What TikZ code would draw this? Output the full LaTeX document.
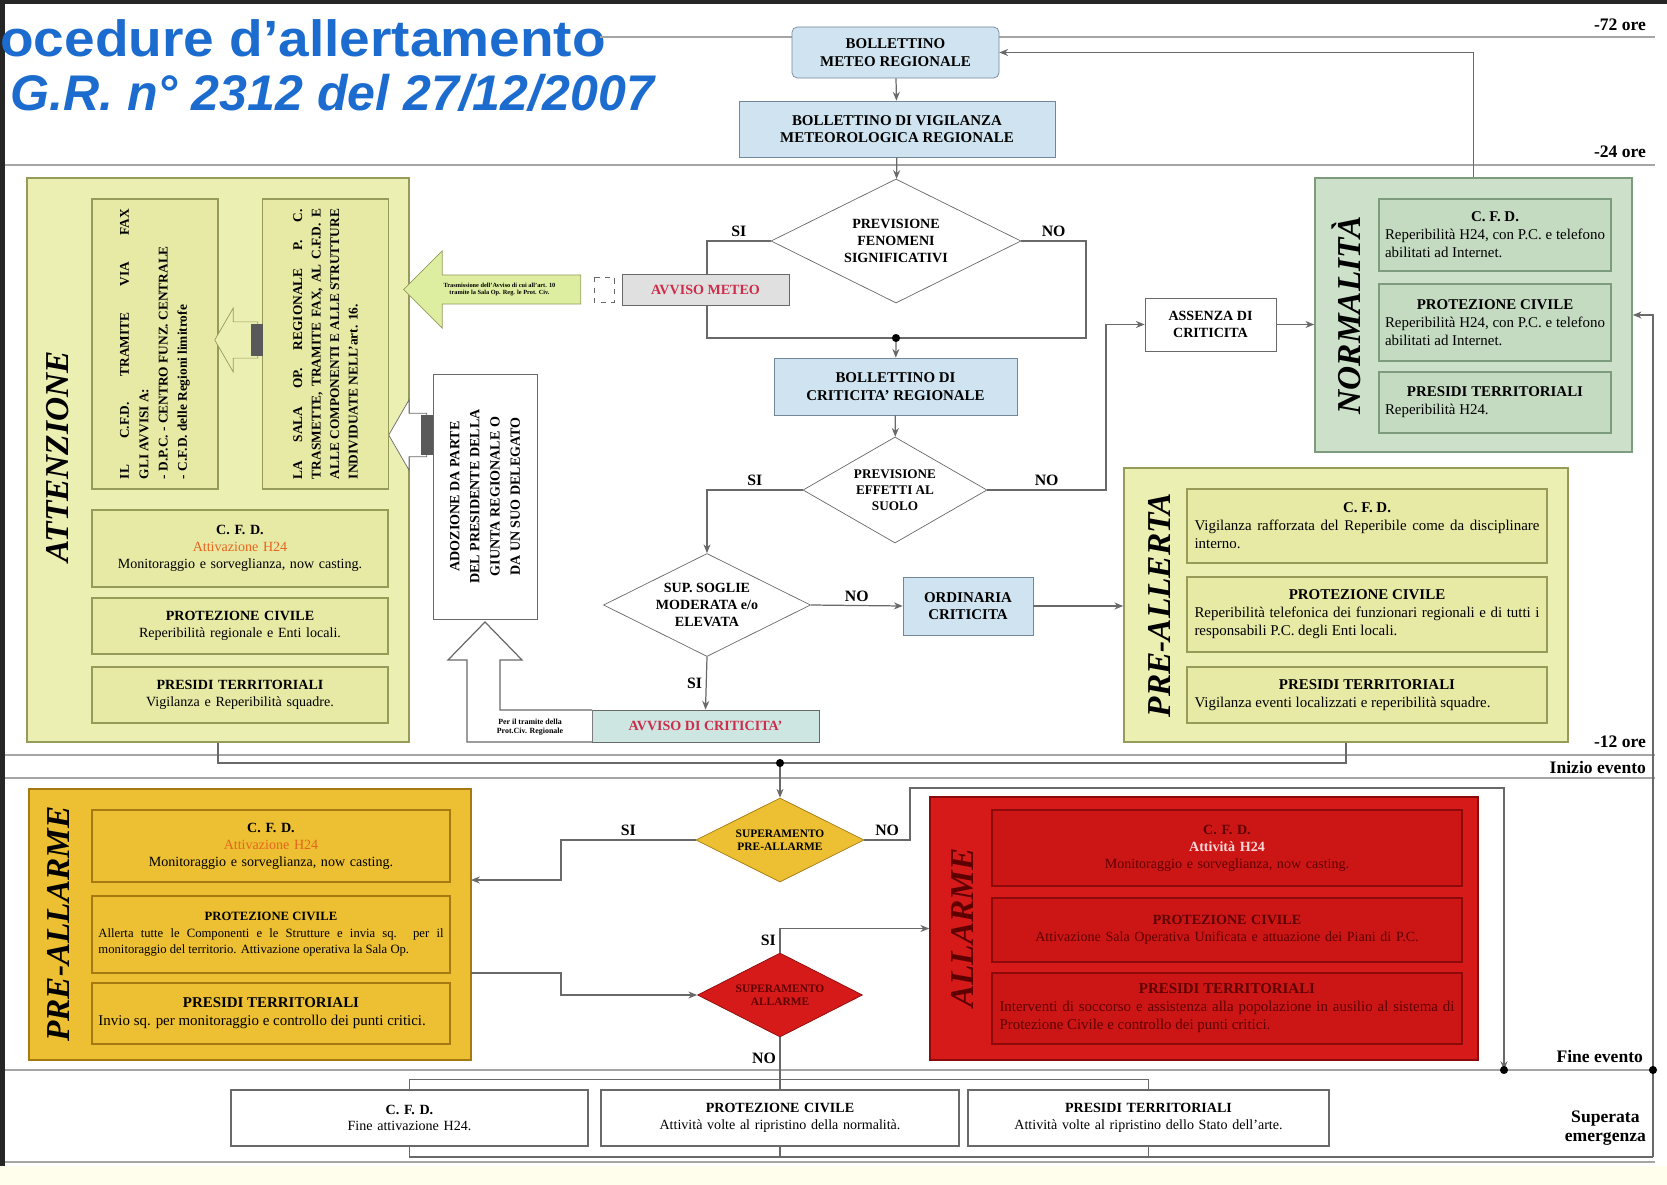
\documentclass[tikz,border=0pt]{standalone}
\usepackage{fontspec}
\setmainfont{Liberation Serif}
\newfontfamily\titlefont{Liberation Sans}
\usetikzlibrary{shapes.geometric, shapes.arrows, arrows.meta, positioning, calc}

\definecolor{attfill}{RGB}{236,239,178}
\definecolor{attin}{RGB}{231,234,165}
\definecolor{attdraw}{RGB}{150,155,90}
\definecolor{arrfill}{RGB}{222,238,160}
\definecolor{normfill}{RGB}{205,225,202}
\definecolor{normin}{RGB}{196,219,194}
\definecolor{normdraw}{RGB}{125,155,125}
\definecolor{goldfill}{RGB}{236,192,50}
\definecolor{golddraw}{RGB}{165,122,18}
\definecolor{allred}{RGB}{214,26,26}
\definecolor{allin}{RGB}{204,22,22}
\definecolor{alldraw}{RGB}{140,10,10}
\definecolor{alltext}{RGB}{95,0,0}
\definecolor{bluefill}{RGB}{207,228,240}
\definecolor{bluedraw}{RGB}{115,135,155}
\definecolor{avvfill}{RGB}{205,230,226}
\definecolor{avvtext}{RGB}{205,45,75}
\definecolor{titleblue}{RGB}{28,108,208}
\definecolor{lncol}{RGB}{105,105,105}
\definecolor{sepcol}{RGB}{165,165,165}
\definecolor{orangetxt}{RGB}{232,100,30}

\begin{document}
\begin{tikzpicture}[x=0.2mm,y=-0.2mm,
  bbox/.style={rectangle,draw=bluedraw,fill=bluefill,align=center,font=\fontsize{8.5}{10}\selectfont\bfseries,inner sep=1pt},
  dec/.style={diamond,draw=lncol,fill=white,align=center,inner sep=0pt,aspect=2,font=\fontsize{8}{9.5}\selectfont\bfseries},
  panel/.style={rectangle,draw=#1,line width=0.9pt},
  inb/.style={rectangle,draw=#1,line width=1pt,inner sep=2pt,align=center,font=\fontsize{8}{9.6}\selectfont},
  jinb/.style={inb=#1,align=justify,font={\fontsize{8.5}{10.2}\selectfont\hyphenpenalty 10000 }},
  plab/.style={rotate=90,font=\fontsize{19}{19}\selectfont\bfseries\itshape,inner sep=0pt},
  tlab/.style={anchor=east,font=\fontsize{10}{11}\selectfont\bfseries,inner sep=1pt},
  lab/.style={font=\fontsize{9}{10}\selectfont\bfseries,inner sep=2pt},
  ln/.style={draw=lncol,line width=0.7pt},
  fl/.style={ln,-{Stealth[length=5pt,width=4pt]}},
  sep/.style={draw=sepcol,line width=1pt}
]
\useasboundingbox (0,0) rectangle (1667,1185);
\fill[white] (0,0) rectangle (1667,1185);
\fill[yellow!7] (0,1166) rectangle (1667,1185);
\fill[black!85] (0,0) rectangle (1667,4);
\fill[black!85] (0,0) rectangle (5,1166);

% titolo
\node[anchor=west,inner sep=0pt,text=titleblue,font=\titlefont\fontsize{29}{29}\selectfont\bfseries] (tit1) at (0,38) {\scalebox{1.08}[1]{ocedure d’allertamento}};
\node[anchor=west,inner sep=0pt,text=titleblue,font=\titlefont\fontsize{28.5}{28.5}\selectfont\bfseries\itshape] (tit2) at (10,93) {G.R. n° 2312 del 27/12/2007};

% linee dei tempi
\draw[sep] (600,37) -- (1655,37);
\draw[sep] (5,165) -- (1655,165);
\draw[sep] (5,755) -- (1655,755);
\draw[sep] (5,778) -- (1655,778);
\draw[sep] (5,1070) -- (1655,1070);
\draw[sep] (5,1162) -- (1655,1162);
\node[tlab] (t72) at (1648,25) {-72 ore};
\node[tlab] (t24) at (1648,152) {-24 ore};
\node[tlab] (t12) at (1648,742) {-12 ore};
\node[tlab] (tie) at (1648,767) {Inizio evento};
\node[tlab] (tfe) at (1645,1056) {Fine evento};
\node[tlab,align=center] (tse) at (1648,1128) {Superata\\emergenza};

\coordinate (j1) at (896,338);
\coordinate (j2) at (780,763);
\coordinate (fe) at (1504,1070);
\coordinate (fe2) at (1653,1070);
\coordinate (se) at (1653,1157);
\coordinate (pmin) at (471,880);
\coordinate (pmout) at (471,973);
\coordinate (fb) at (780,1080);

% pannelli
\node[panel=attdraw,fill=attfill,minimum width=76.4mm,minimum height=112.8mm] (att) at (218,460) {};
\node[panel=normdraw,fill=normfill,minimum width=63.4mm,minimum height=54.8mm] (norm) at (1473.5,315) {};
\node[panel=attdraw,fill=attfill,minimum width=88.8mm,minimum height=54.8mm] (preal) at (1346,605) {};
\node[panel=golddraw,fill=goldfill,minimum width=88.4mm,minimum height=54.2mm] (prearm) at (250,924.5) {};
\node[panel=alldraw,fill=allred,minimum width=109.6mm,minimum height=52.6mm] (allarme) at (1204,928.5) {};

\node[plab] (attlab) at (58,457) {ATTENZIONE};
\node[plab] (normlab) at (1346,315) {NORMALITÀ};
\node[plab] (preallab) at (1159,605) {PRE-ALLERTA};
\node[plab] (prearmlab) at (58,924) {PRE-ALLARME};
\node[plab,text=alltext] (allab) at (962,928) {ALLARME};

% flusso centrale
\node[bbox,rounded corners=3pt,minimum width=41.4mm,minimum height=10.2mm] (bmr) at (895.5,52.5) {BOLLETTINO\\METEO REGIONALE};
\node[bbox,minimum width=63.2mm,minimum height=11.2mm] (bvig) at (897,129) {BOLLETTINO DI VIGILANZA\\METEOROLOGICA REGIONALE};
\node[dec,minimum width=50mm,minimum height=24.8mm] (d1) at (896,241) {PREVISIONE\\FENOMENI\\SIGNIFICATIVI};
\node[bbox,minimum width=48.6mm,minimum height=11.4mm] (bcrit) at (895.5,386.5) {BOLLETTINO DI\\CRITICITA' REGIONALE};
\node[dec,aspect=1.75,font=\fontsize{7.5}{9}\selectfont\bfseries,minimum width=36.8mm,minimum height=21.2mm] (d2) at (895,490) {PREVISIONE\\EFFETTI AL\\SUOLO};
\node[rectangle,draw=lncol,fill=white,align=center,font=\fontsize{8}{9.5}\selectfont\bfseries,minimum width=26.2mm,minimum height=10.6mm] (assenza) at (1210.5,324.5) {ASSENZA DI\\CRITICITA};
\node[dec,minimum width=41.4mm,minimum height=20.6mm] (d3) at (707,605) {SUP. SOGLIE\\MODERATA e/o\\ELEVATA};
\node[bbox,minimum width=26mm,minimum height=11.6mm] (ordin) at (968,606) {ORDINARIA\\CRITICITA};
\node[dec,fill=goldfill,draw=golddraw,font=\fontsize{6.5}{7.5}\selectfont\bfseries,minimum width=33.6mm,minimum height=16.8mm] (dpre) at (780,840) {SUPERAMENTO\\PRE-ALLARME};
\node[dec,fill=allred,draw=alldraw,text=alltext,font=\fontsize{6.5}{7.5}\selectfont\bfseries,minimum width=33mm,minimum height=16.8mm] (dall) at (780,995) {SUPERAMENTO\\ALLARME};

\draw[fl] (bmr) -- (bvig);
\draw[fl] (bvig) -- (d1);
\draw[ln] (d1.west) -- node[lab,above]{SI} (707,241) |- (j1);
\draw[ln] (d1.east) -- node[lab,above]{NO} (1086,241) |- (j1);
\draw[fl] (j1) -- (bcrit);
\draw[fl] (bcrit) -- (d2);
\draw[fl] (d2.west) -| node[lab,above,pos=0.25]{SI} (d3.north);
\draw[fl] (d2.east) -- node[lab,above]{NO} (1106,490) |- (assenza.west);
\draw[fl] (assenza.east) -- (assenza.east -| norm.west);
\draw[fl] (d3.east) -- node[lab,above]{NO} (ordin.west);
\draw[fl] (ordin.east) -- (ordin.east -| preal.west);
\draw[fl] (norm.north) |- (bmr.east);
\draw[ln] (att.south) |- (j2) -| (preal.south);
\draw[fl] (j2) -- (dpre.north);
\draw[fl] (dpre.west) -- node[lab,above]{SI} (561,840) |- (pmin);
\draw[fl] (dpre.east) -- node[lab,above]{NO} (910,840) |- (1504,788) -- (fe);
\draw[fl] (pmout) -- (561,973) |- (dall.west);
\draw[fl] (dall.north) |- node[lab,left,pos=0.25]{SI} (allarme.west);
\draw[ln] (dall.south) -- node[lab,left]{NO} (fb);
\draw[fl] (se) -- (fe2) |- (norm.east);
\foreach \j in {j1,j2,fe,fe2} \fill[black] (\j) circle (2.3pt);

% avvisi
\node[rectangle,draw=lncol,fill=black!12,text=avvtext,font=\fontsize{8}{9}\selectfont\bfseries,minimum width=33.4mm,minimum height=6.2mm] (avvmeteo) at (705.5,289.5) {AVVISO METEO};
\node[rectangle,draw=lncol,fill=avvfill,text=avvtext,font=\fontsize{8}{9}\selectfont\bfseries,minimum width=45.4mm,minimum height=6.4mm] (avvcrit) at (705.5,726) {AVVISO DI CRITICITA'};
\draw[fl] (d3.south) -- node[lab,left]{SI} (avvcrit.north);
\draw[lncol,dashed] (594,277) rectangle (614,302);
\node[single arrow,shape border rotate=180,draw=attdraw,fill=arrfill,minimum height=35.4mm,minimum width=15.4mm,single arrow head extend=4.6mm,inner xsep=1pt,inner ysep=4pt,align=center,font=\fontsize{3.6}{4.2}\selectfont\bfseries] (amet) at (499.5,289.5) {Trasmissione dell'Avviso di cui all'art. 10\\tramite la Sala Op. Reg. le Prot. Civ.};

% adozione
\node[rectangle,draw=lncol,fill=white,rotate=90,align=center,font=\fontsize{8}{11.5}\selectfont\bfseries,minimum width=49mm,minimum height=20.8mm] (adoz) at (485,496.5) {ADOZIONE DA PARTE\\DEL PRESIDENTE DELLA\\GIUNTA REGIONALE O\\DA UN SUO DELEGATO};
\draw[lncol,fill=white,line width=0.7pt] (592,710) -- (500,710) -- (500,660) -- (522,660) -- (485,622) -- (448,660) -- (467,660) -- (467,742) -- (592,742);
\node[align=center,font=\fontsize{4.5}{5.2}\selectfont\bfseries,inner sep=0pt] (tramite) at (530,727) {Per il tramite della\\Prot.Civ. Regionale};
\node[single arrow,shape border rotate=180,draw=lncol,fill=white,minimum height=7.6mm,minimum width=14mm,single arrow tip angle=120,inner xsep=0pt,inner ysep=4mm] (aAd) at (414,435) {};
\fill[black!65] (421,415) rectangle (433,455);

% attenzione
\node[inb=attdraw,fill=attin,rotate=90,minimum width=58mm,minimum height=25.2mm,text width=54mm,align=justify,font=\fontsize{7.6}{11}\selectfont\bfseries] (attA) at (155,344) {IL C.F.D. TRAMITE VIA FAX\linebreak GLI AVVISI A:\\- D.P.C. - CENTRO FUNZ. CENTRALE\\- C.F.D. delle Regioni limitrofe};
\node[inb=attdraw,fill=attin,rotate=90,minimum width=58mm,minimum height=25.2mm,text width=54mm,align=justify,font=\fontsize{7.6}{10.5}\selectfont\bfseries] (attB) at (325.5,344) {LA SALA OP. REGIONALE P. C. TRASMETTE, TRAMITE FAX, AL C.F.D. E ALLE COMPONENTI E ALLE STRUTTURE INDIVIDUATE NELL'art. 16.};
\node[single arrow,shape border rotate=180,draw=attdraw,fill=attfill,minimum height=8.6mm,minimum width=12.8mm,single arrow tip angle=120,inner xsep=0pt,inner ysep=3.2mm] (aAB) at (241.5,340) {};
\fill[black!65] (251,324) rectangle (263,356);
\node[inb=attdraw,fill=attin,minimum width=59.2mm,minimum height=15.4mm,text width=57mm] (attcfd) at (240,548.5) {\textbf{C. F. D.}\\\textcolor{orangetxt}{Attivazione H24}\\Monitoraggio e sorveglianza, now casting.};
\node[inb=attdraw,fill=attin,minimum width=59.2mm,minimum height=11.2mm,text width=57mm] (attpc) at (240,626) {\textbf{PROTEZIONE CIVILE}\\Reperibilità regionale e Enti locali.};
\node[inb=attdraw,fill=attin,minimum width=59.2mm,minimum height=11.2mm,text width=57mm] (attpt) at (240,695) {\textbf{PRESIDI TERRITORIALI}\\Vigilanza e Reperibilità squadre.};

% normalita
\node[jinb=normdraw,fill=normin,minimum width=46.4mm,minimum height=14.4mm,text width=44mm] (nocfd) at (1495,235) {{\centering\textbf{C. F. D.}\par}Reperibilità H24, con P.C. e telefono abilitati ad Internet.};
\node[jinb=normdraw,fill=normin,minimum width=46.4mm,minimum height=15.4mm,text width=44mm] (nopc) at (1495,322.5) {{\centering\textbf{PROTEZIONE CIVILE}\par}Reperibilità H24, con P.C. e telefono abilitati ad Internet.};
\node[jinb=normdraw,fill=normin,minimum width=46.4mm,minimum height=12.2mm,text width=44mm] (nopt) at (1495,402.5) {{\centering\textbf{PRESIDI TERRITORIALI}\par}Reperibilità H24.};

% pre-allerta
\node[jinb=attdraw,fill=attin,minimum width=72mm,minimum height=14.8mm,text width=69mm] (pacfd) at (1367,526) {{\centering\textbf{C. F. D.}\par}Vigilanza rafforzata del Reperibile come da disciplinare interno.};
\node[jinb=attdraw,fill=attin,minimum width=72mm,minimum height=15mm,text width=69mm] (papc) at (1367,614.5) {{\centering\textbf{PROTEZIONE CIVILE}\par}Reperibilità telefonica dei funzionari regionali e di tutti i responsabili P.C. degli Enti locali.};
\node[jinb=attdraw,fill=attin,minimum width=72mm,minimum height=11.2mm,text width=69mm] (papt) at (1367,695) {{\centering\textbf{PRESIDI TERRITORIALI}\par}Vigilanza eventi localizzati e reperibilità squadre.};

% pre-allarme
\node[inb=golddraw,fill=goldfill,minimum width=71.6mm,minimum height=14.4mm,text width=69mm] (pmcfd) at (271,846) {\textbf{C. F. D.}\\\textcolor{orangetxt}{Attivazione H24}\\Monitoraggio e sorveglianza, now casting.};
\node[jinb=golddraw,fill=goldfill,font={\fontsize{7.2}{9.4}\selectfont\hyphenpenalty 10000 },minimum width=71.6mm,minimum height=15.4mm,text width=69mm] (pmpc) at (271,934.5) {{\centering\textbf{PROTEZIONE CIVILE}\par}Allerta tutte le Componenti e le Strutture e invia sq. per il monitoraggio del territorio. Attivazione operativa la Sala Op.};
\node[jinb=golddraw,fill=goldfill,minimum width=71.6mm,minimum height=12.2mm,text width=69mm] (pmpt) at (271,1013.5) {{\centering\textbf{PRESIDI TERRITORIALI}\par}Invio sq. per monitoraggio e controllo dei punti critici.};

% allarme
\node[inb=alldraw,fill=allin,text=alltext,minimum width=94mm,minimum height=15.2mm,text width=91mm] (alcfd) at (1227,848) {\textbf{C. F. D.}\\\textcolor{red!15}{\textbf{Attività H24}}\\Monitoraggio e sorveglianza, now casting.};
\node[inb=alldraw,fill=allin,text=alltext,minimum width=94mm,minimum height=12.8mm,text width=91mm] (alpc) at (1227,930) {\textbf{PROTEZIONE CIVILE}\\Attivazione Sala Operativa Unificata e attuazione dei Piani di P.C.};
\node[jinb=alldraw,fill=allin,text=alltext,minimum width=94mm,minimum height=14.2mm,text width=91mm] (alpt) at (1227,1008.5) {{\centering\textbf{PRESIDI TERRITORIALI}\par}Interventi di soccorso e assistenza alla popolazione in ausilio al sistema di Protezione Civile e controllo dei punti critici.};

% fine evento
\node[inb=lncol,line width=0.7pt,fill=white,minimum width=71.4mm,minimum height=11.2mm,text width=69mm] (fcfd) at (409.5,1118) {\textbf{C. F. D.}\\Fine attivazione H24.};
\node[inb=lncol,line width=0.7pt,fill=white,minimum width=71.6mm,minimum height=11.2mm,text width=69mm] (fpc) at (780,1118) {\textbf{PROTEZIONE CIVILE}\\Attività volte al ripristino della normalità.};
\node[inb=lncol,line width=0.7pt,fill=white,minimum width=72.2mm,minimum height=11.2mm,text width=70mm] (fpt) at (1148.5,1118) {\textbf{PRESIDI TERRITORIALI}\\Attività volte al ripristino dello Stato dell'arte.};
\draw[ln] (fcfd.north) -- ++(0,-10) -| (fpt.north);
\draw[ln] (fb) -- (fpc.north);
\draw[ln] (fcfd.south) |- (se);
\draw[ln] (fpc.south) -- ++(0,11);
\draw[ln] (fpt.south) -- ++(0,11);
\end{tikzpicture}
\end{document}
